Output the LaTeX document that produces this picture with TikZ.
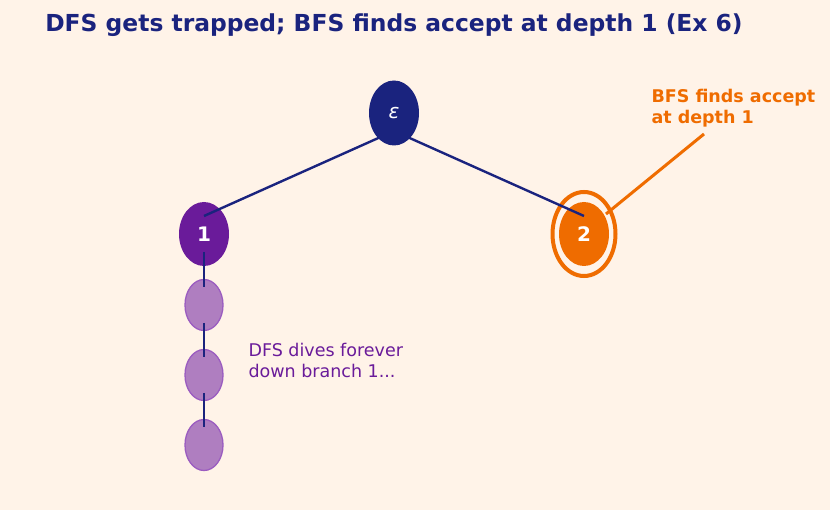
\documentclass[tikz,border=0pt]{standalone}
\usepackage{fontspec}
\setmainfont{DejaVu Sans}
\usepackage{tikz}
\usetikzlibrary{positioning,shapes.geometric}

\definecolor{paper}{HTML}{FFF3E8}
\definecolor{navy}{HTML}{1A237E}
\definecolor{grape}{HTML}{6A1B9A}
\definecolor{lilac}{HTML}{AF7EC0}
\definecolor{lilacedge}{HTML}{9B5CC0}
\definecolor{amber}{HTML}{EF6C00}

\begin{document}
\begin{tikzpicture}[x=1pt,y=-1pt,on grid,
start/.style={ellipse, fill=navy, text=white, minimum width=50pt, minimum height=65pt, inner sep=0pt, font=\fontsize{20}{24}\selectfont\itshape},
reached/.style={ellipse, fill=grape, text=white, minimum width=50pt, minimum height=64pt, inner sep=0pt, font=\fontsize{20}{24}\selectfont\bfseries},
accepting/.style={ellipse, fill=amber, text=white, minimum width=50pt, minimum height=64pt, inner sep=0pt, font=\fontsize{20}{24}\selectfont\bfseries},
ring/.style={ellipse, draw=amber, line width=4pt, minimum width=63pt, minimum height=84pt, inner sep=0pt},
deeper/.style={ellipse, fill=lilac, draw=lilacedge, line width=1.3pt, minimum width=38pt, minimum height=51pt, inner sep=0pt},
edge/.style={navy, line width=2.4pt},
note/.style={align=left, anchor=west, font=\fontsize{17.5}{21}\selectfont},
]
\fill[paper] (0,0) rectangle (830,510);
\useasboundingbox (0,0) rectangle (830,510);

%Title
\node[navy, font=\fontsize{23.4}{28}\selectfont\bfseries] (title) at (394,25) {DFS gets trapped; BFS finds accept at depth 1 (Ex 6)};

%Nodes
\coordinate (top) at (394,113);
\node[reached]   (one)  [below=121pt of top, xshift=-190pt, anchor=center] {1};
\node[accepting] (two)  [below=121pt of top, xshift=190pt, anchor=center]  {2};
\node[ring]      (tworing) at (two) {};
\node[deeper]    (d1)   [below=71pt of one] {};
\node[deeper]    (d2)   [below=70pt of d1]  {};
\node[deeper]    (d3)   [below=70pt of d2]  {};

%Lines
\draw[edge] ([yshift=-18pt]top) -- ([yshift=18pt]one.center);
\draw[edge] ([yshift=-18pt]top) -- ([yshift=18pt]two.center);
\draw[edge] ([yshift=-18pt]one.center) -- ([yshift=18pt]d1.center);
\draw[edge] ([yshift=-18pt]d1.center) -- ([yshift=18pt]d2.center);
\draw[edge] ([yshift=-18pt]d2.center) -- ([yshift=18pt]d3.center);

\node[start] (root) at (top) {ε};

%Notes
\node[note, grape] (dfsnote) at (245,360) {DFS dives forever\\down branch 1...};
\node[note, amber, font=\fontsize{17.5}{21}\selectfont\bfseries] (bfsnote) at (648,108) {BFS finds accept\\at depth 1};
\coordinate (tip) at (704,134);
\draw[amber, line width=3pt] (tip) -- ([shift={(22pt,20pt)}]two.center);
\end{tikzpicture}
\end{document}
